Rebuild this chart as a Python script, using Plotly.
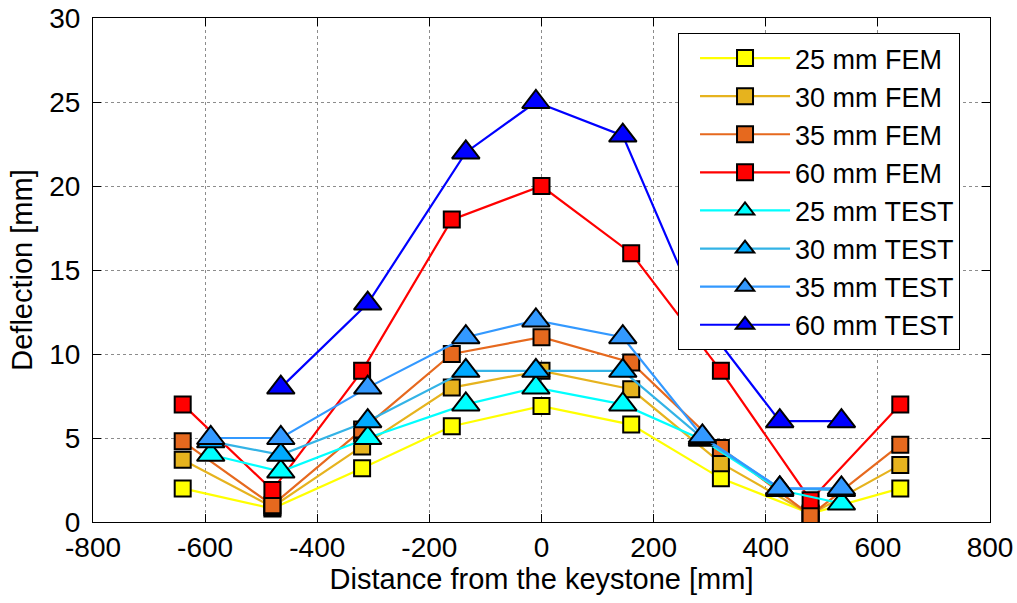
import plotly.graph_objects as go

# ---- data ----
x_fem = [-640, -480, -320, -160, 0, 160, 320, 480, 640]
fem25 = [2.0, 0.8, 3.2, 5.7, 6.9, 5.8, 2.6, 0.5, 2.0]
fem30 = [3.7, 0.9, 4.5, 8.0, 9.0, 7.9, 3.5, 0.45, 3.4]
fem35 = [4.8, 1.0, 5.5, 10.0, 11.0, 9.5, 4.4, 0.4, 4.6]
fem60 = [7.0, 1.9, 9.0, 18.0, 20.0, 16.0, 9.0, 1.3, 7.0]

x_test = [-590, -465, -310, -135, -10, 145, 287, 425, 535]
test25 = [4.0, 3.0, 5.0, 7.0, 8.0, 7.0, 4.9, 1.9, 1.1]
test30 = [4.8, 4.0, 6.0, 9.0, 9.0, 9.0, 5.0, 2.0, 1.9]
test35 = [5.0, 5.0, 8.0, 11.0, 12.0, 11.0, 5.1, 2.0, 2.0]
x_test60 = [-465, -310, -135, -10, 145, 287, 425, 535]
test60 = [8.0, 13.0, 22.0, 25.0, 23.0, 12.0, 6.0, 6.0]

names = ["25 mm FEM", "30 mm FEM", "35 mm FEM", "60 mm FEM",
         "25 mm TEST", "30 mm TEST", "35 mm TEST", "60 mm TEST"]
line_colors = ["#FFFF00", "#E6B31E", "#E6691E", "#FF0000",
               "#00FFFF", "#33B3E6", "#3399FF", "#0000FF"]
fill_colors = ["#FFFF00", "#E6B31E", "#E6691E", "#FF0000",
               "#00FFFF", "#00AAFF", "#3399FF", "#0000FF"]
x_tick_vals = [-800, -600, -400, -200, 0, 200, 400, 600, 800]
y_tick_vals = [0, 5, 10, 15, 20, 25, 30]

series = [
    (x_fem, fem25), (x_fem, fem30), (x_fem, fem35), (x_fem, fem60),
    (x_test, test25), (x_test, test30), (x_test, test35), (x_test60, test60),
]

FONT = "Liberation Sans, Arial, Helvetica, sans-serif"

fig = go.Figure()
for i, ((xs, ys), name) in enumerate(zip(series, names)):
    is_fem = i < 4
    fig.add_trace(go.Scatter(
        x=xs, y=ys, name=name, mode="lines+markers",
        line=dict(color=line_colors[i], width=2.2),
        marker=dict(
            symbol="square" if is_fem else "triangle-up",
            size=16 if is_fem else 24,
            color=fill_colors[i],
            line=dict(color="black", width=2),
        ),
    ))

axis_common = dict(
    showline=True, linecolor="black", linewidth=1, mirror="ticks",
    ticks="inside", ticklen=8, tickcolor="black", tickwidth=1,
    showgrid=True, gridcolor="#8c8c8c", gridwidth=1, griddash="dot",
    zeroline=False, automargin=False, ticklabeloverflow="allow",
    tickfont=dict(size=28, color="black", family=FONT),
)

fig.update_xaxes(
    range=[-800, 800], tickvals=x_tick_vals, ticktext=[str(v) for v in x_tick_vals],
    title=dict(text="Distance from the keystone [mm]", font=dict(size=29, color="black", family=FONT), standoff=4),
    **axis_common,
)
fig.update_yaxes(
    range=[0, 30], tickvals=y_tick_vals, ticklabelstandoff=6,
    title=dict(text="Deflection [mm]", font=dict(size=29, color="black", family=FONT), standoff=8),
    **axis_common,
)

fig.update_layout(
    width=1017, height=603,
    margin=dict(l=93, r=27, t=18, b=81, pad=0),
    paper_bgcolor="white", plot_bgcolor="white",
    font=dict(family=FONT, color="black"),
    showlegend=True,
    legend=dict(
        x=0.6522, y=0.9702, xanchor="left", yanchor="top",
        bgcolor="white", bordercolor="black", borderwidth=1,
        font=dict(size=27, color="black", family=FONT),
        itemwidth=90, tracegroupgap=0, indentation=16,
    ),
)

# remove the default page margin so the 1017x603 figure fills the window exactly
fig.write_html(
    "out.html",
    config={"displayModeBar": False},
    post_script="document.body.style.margin='0px';document.body.style.overflow='hidden';",
)
